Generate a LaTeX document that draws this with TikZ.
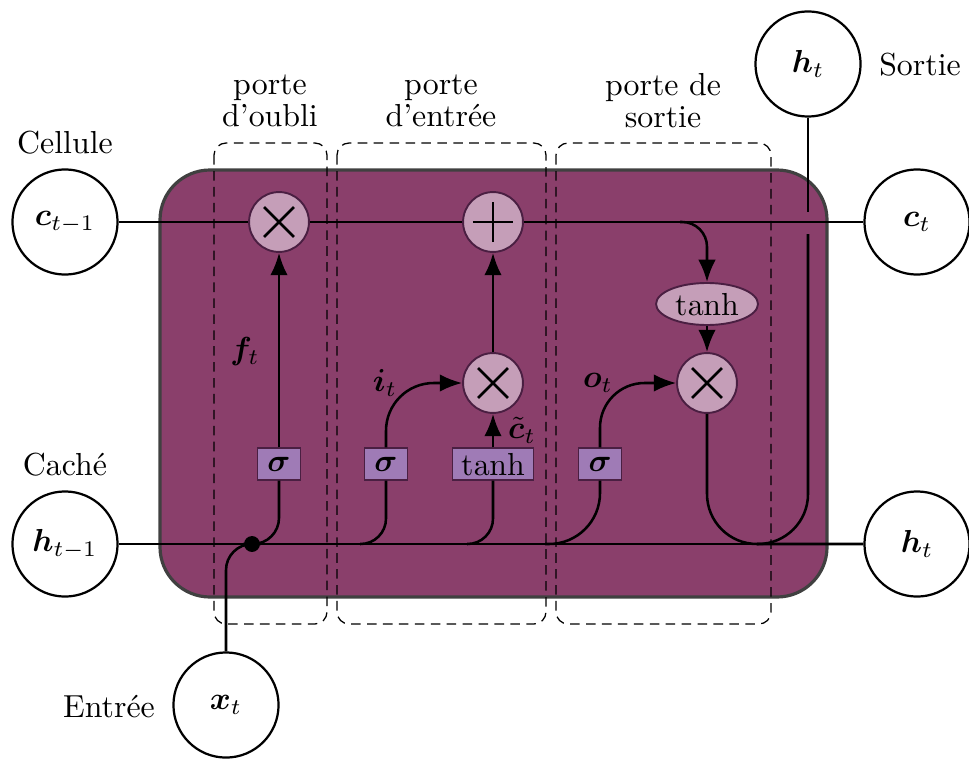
\documentclass[tikz,border=0pt]{standalone}
\usepackage{amsmath}
\usepackage{bm}
\usetikzlibrary{shapes.geometric,arrows.meta}
\definecolor{cellfill}{HTML}{8A3F6B}
\definecolor{cellborder}{HTML}{404040}
\definecolor{opfill}{HTML}{C59EB8}
\definecolor{opborder}{HTML}{4A1F42}
\definecolor{gatefill}{HTML}{9F7BB6}
\begin{document}
\begin{tikzpicture}[x=0.314pt,y=-0.314pt,
  cellbox/.style={draw=cellborder,fill=cellfill,line width=1pt,rounded corners=15.7pt},
  gatebox/.style={draw=black,line width=0.4pt,dash pattern=on 3pt off 2pt,rounded corners=3.8pt},
  bigcirc/.style={circle,draw=black,fill=white,line width=0.7pt,minimum size=33pt,inner sep=0pt},
  opbase/.style={circle,draw=opborder,fill=opfill,line width=0.6pt,minimum size=18.8pt,inner sep=0pt},
  mulop/.style={opbase,path picture={
     \draw[black,line width=0.8pt] ([shift={(-4.7pt,-4.7pt)}]path picture bounding box.center) -- ([shift={(4.7pt,4.7pt)}]path picture bounding box.center);
     \draw[black,line width=0.8pt] ([shift={(-4.7pt,4.7pt)}]path picture bounding box.center) -- ([shift={(4.7pt,-4.7pt)}]path picture bounding box.center);}},
  addop/.style={opbase,path picture={
     \draw[black,line width=0.8pt] ([shift={(-6.3pt,0pt)}]path picture bounding box.center) -- ([shift={(6.3pt,0pt)}]path picture bounding box.center);
     \draw[black,line width=0.8pt] ([shift={(0pt,-6.3pt)}]path picture bounding box.center) -- ([shift={(0pt,6.3pt)}]path picture bounding box.center);}},
  sigbox/.style={rectangle,draw=opborder,fill=gatefill,line width=0.4pt,minimum width=13.5pt,minimum height=10pt,inner sep=0pt},
  tanhbox/.style={sigbox,minimum width=25.4pt},
  tanhell/.style={ellipse,draw=opborder,fill=opfill,line width=0.6pt,minimum width=32pt,minimum height=13.2pt,inner sep=0pt},
  conn/.style={draw=black,line width=0.8pt},
  arr/.style={conn,-{Latex[length=7pt,width=5.5pt]}},
  dotnode/.style={circle,fill=black,minimum size=5pt,inner sep=0pt}
]
\useasboundingbox (0,0) rectangle (969,759);

% cell background and gates
\draw[cellbox] (160,170) rectangle (827,597);
\draw[gatebox] (214,143) rectangle (327,624);
\draw[gatebox] (337,143) rectangle (546,624);
\draw[gatebox] (556,143) rectangle (771,624);

% gate titles
\node[align=center] (tf) at (270,101) {porte\\[-2pt]d'oubli};
\node[align=center] (ti) at (441,101) {porte\\[-2pt]d'entrée};
\node[align=center] (to) at (663,101) {porte de\\[-2pt]sortie};

% outer labels
\node (lcell) at (65,143) {Cellule};
\node (lhid) at (65,465) {Caché};
\node (lin) at (109,707) {Entrée};
\node (lout) at (920,65) {Sortie};

% outer circles
\node[bigcirc] (cprev) at (65,222) {$\bm{c}_{t-1}$};
\node[bigcirc] (hprev) at (65,544) {$\bm{h}_{t-1}$};
\node[bigcirc] (xt) at (226,705) {$\bm{x}_t$};
\node[bigcirc] (htop) at (808,64) {$\bm{h}_t$};
\node[bigcirc] (cnext) at (917,222) {$\bm{c}_t$};
\node[bigcirc] (hnext) at (917,544) {$\bm{h}_t$};

% operators
\node[mulop] (fmul) at (279,222) {};
\node[addop] (add) at (493,222) {};
\node[mulop] (imul) at (493,383) {};
\node[mulop] (omul) at (707,383) {};
\node[tanhell] (tanhc) at (707,304) {$\tanh$};
\node[sigbox] (fsig) at (279,464) {$\bm{\sigma}$};
\node[sigbox] (isig) at (386,464) {$\bm{\sigma}$};
\node[tanhbox] (gtanh) at (493,464) {$\tanh$};
\node[sigbox] (osig) at (600,464) {$\bm{\sigma}$};

% helper coordinates
\node[dotnode] (dot) at (252,544) {};
\coordinate (ibr) at (360,544);
\coordinate (gbr) at (467,544);
\coordinate (obr) at (545,544);
\coordinate (cbr) at (680,222);
\coordinate (hjoin) at (757,544);
\coordinate (gapA) at (808,212);
\coordinate (gapB) at (808,234);

% cell state line
\draw[conn] (cprev) -- (fmul) -- (add) -- (cnext);
% hidden line
\draw[conn] (hprev) -- (hnext);
% input
\draw[conn,rounded corners=8.2pt] (xt.north) |- (dot);
% branches to gates
\draw[conn,rounded corners=8.2pt] (dot) -| (fsig.south);
\draw[conn,rounded corners=8pt] (ibr) -| (isig.south);
\draw[conn,rounded corners=8pt] (gbr) -| (gtanh.south);
\draw[conn,rounded corners=16pt] (obr) -| (osig.south);
% gate outputs
\draw[arr] (fsig.north) -- (fmul.south);
\draw[arr,rounded corners=15pt] (isig.north) |- (imul.west);
\draw[arr] (gtanh.north) -- (imul.south);
\draw[arr] (imul.north) -- (add.south);
\draw[arr,rounded corners=14pt] (osig.north) |- (omul.west);
\draw[arr,rounded corners=7.8pt] (cbr) -| (tanhc.north);
\draw[arr] (tanhc.south) -- (omul.north);
% output
\draw[conn,rounded corners=15.7pt] (omul.south) |- (hnext.west);
\draw[conn] (htop.south) -- (gapA);
\draw[conn,rounded corners=15.7pt] (gapB) |- (hjoin);

% labels
\node (lf) at (245,352) {$\bm{f}_t$};
\node (li) at (385,383) {$\bm{i}_t$};
\node (lo) at (598,383) {$\bm{o}_t$};
\node (lc) at (522,430) {$\tilde{\bm{c}}_t$};
\end{tikzpicture}
\end{document}
